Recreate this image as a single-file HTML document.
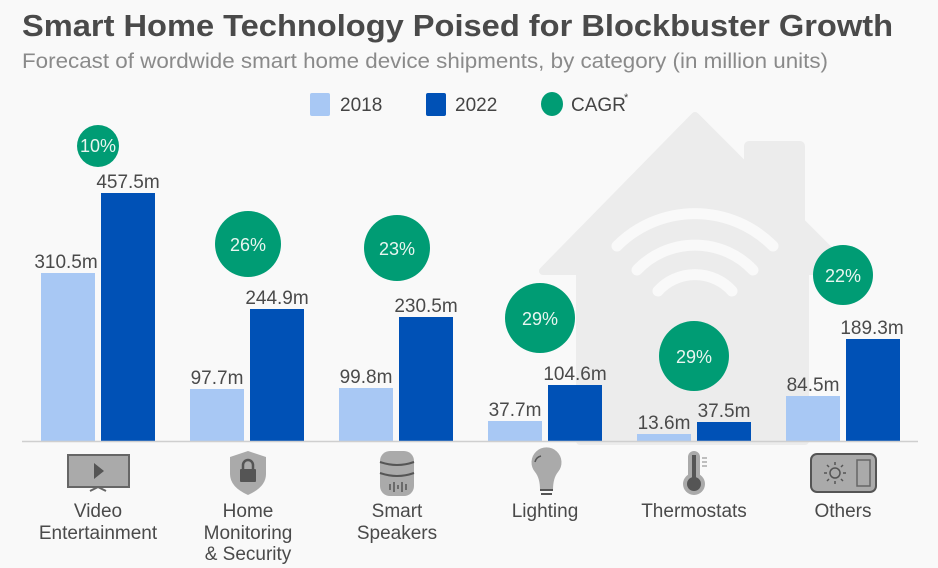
<!DOCTYPE html>
<html><head><meta charset="utf-8"><style>
html,body{margin:0;padding:0;background:#f9f9f9;}
svg{display:block;font-family:"Liberation Sans",sans-serif;}
</style></head><body>
<svg width="938" height="568" viewBox="0 0 938 568" xmlns="http://www.w3.org/2000/svg">
<rect width="938" height="568" fill="#f9f9f9"/>
<!-- house -->
<g fill="#ececec">
<path d="M695 116 L850 271 L805 271 L805 441 L580 441 L580 271 L543 271 Z" stroke="#ececec" stroke-width="8" stroke-linejoin="round"/>
<rect x="744" y="141" width="61" height="120" rx="5"/>
</g>
<g fill="none" stroke="#f9f9f9" stroke-width="11" stroke-linecap="round">
<path d="M617 246 A110 110 0 0 1 773 246"/>
<path d="M637 270 A80 80 0 0 1 753 270"/>
<path d="M658 291 A50 50 0 0 1 732 291"/>
</g>
<!-- title -->
<text x="22" y="36" font-size="31" font-weight="bold" fill="#4a4a4a" textLength="871" lengthAdjust="spacingAndGlyphs">Smart Home Technology Poised for Blockbuster Growth</text>
<text x="22" y="68" font-size="21" fill="#8a8a8a" textLength="806" lengthAdjust="spacingAndGlyphs">Forecast of wordwide smart home device shipments, by category (in million units)</text>
<!-- legend -->
<rect x="310" y="93" width="20" height="23" rx="2" fill="#a8c8f4"/>
<text x="340" y="111" font-size="19" fill="#444">2018</text>
<rect x="426" y="93" width="20" height="23" rx="2" fill="#0051b6"/>
<text x="455" y="111" font-size="19" fill="#444">2022</text>
<ellipse cx="552" cy="104" rx="11" ry="12" fill="#009c74"/>
<text x="571" y="111" font-size="19" fill="#444">CAGR</text><text x="624" y="101" font-size="11" fill="#444">*</text>
<!-- bars -->
<g fill="#a8c8f4">
<rect x="41" y="273" width="54" height="168"/>
<rect x="190" y="389" width="54" height="52"/>
<rect x="339" y="388" width="54" height="53"/>
<rect x="488" y="421" width="54" height="20"/>
<rect x="637" y="434" width="54" height="7"/>
<rect x="786" y="396" width="54" height="45"/>
</g>
<g fill="#0051b6">
<rect x="101" y="193" width="54" height="248"/>
<rect x="250" y="309" width="54" height="132"/>
<rect x="399" y="317" width="54" height="124"/>
<rect x="548" y="385" width="54" height="56"/>
<rect x="697" y="422" width="54" height="19"/>
<rect x="846" y="339" width="54" height="102"/>
</g>
<line x1="22" y1="441.5" x2="918" y2="441.5" stroke="#cfcfcf" stroke-width="1.5"/>
<!-- values -->
<g font-size="19" fill="#4a4a4a" text-anchor="middle">
<text x="66" y="268">310.5m</text><text x="128" y="188">457.5m</text>
<text x="217" y="384">97.7m</text><text x="277" y="304">244.9m</text>
<text x="366" y="383">99.8m</text><text x="426" y="312">230.5m</text>
<text x="515" y="416">37.7m</text><text x="575" y="380">104.6m</text>
<text x="664" y="429">13.6m</text><text x="724" y="417">37.5m</text>
<text x="813" y="391">84.5m</text><text x="872" y="334">189.3m</text>
</g>
<!-- CAGR circles -->
<g fill="#009c74">
<circle cx="98" cy="146" r="21"/>
<circle cx="248" cy="244" r="33"/>
<circle cx="397" cy="248" r="33"/>
<circle cx="540" cy="318" r="35"/>
<circle cx="694" cy="356" r="35"/>
<circle cx="843" cy="275" r="30"/>
</g>
<g font-size="18" fill="#e8f5f0" text-anchor="middle">
<text x="98" y="152">10%</text>
<text x="248" y="251">26%</text>
<text x="397" y="255">23%</text>
<text x="540" y="325">29%</text>
<text x="694" y="363">29%</text>
<text x="843" y="282">22%</text>
</g>
<!-- icons -->
<g>
<rect x="68" y="455" width="61" height="32" fill="#aaa" stroke="#666" stroke-width="2"/>
<path d="M94 463 L104 471 L94 479 Z" fill="#555"/>
<path d="M90 491 L98 487 L106 491" stroke="#666" stroke-width="2" fill="none"/>
<path d="M248 451 L266 457 L266 474 Q266 487 248 495 Q230 487 230 474 L230 457 Z" fill="#aaa"/>
<rect x="240" y="469" width="16" height="13" rx="1" fill="#555"/>
<path d="M243 469 V465 A5 5 0 0 1 253 465 V469" stroke="#555" stroke-width="2.5" fill="none"/>
<rect x="380" y="451" width="34" height="45" rx="10" fill="#aaa"/>
<path d="M380 462 Q397 468 414 462 M380 473 Q397 479 414 473" stroke="#555" stroke-width="2" fill="none"/>
<path d="M390 484v6M394 482v10M398 485v4M402 482v10M406 484v6" stroke="#555" stroke-width="1.5"/>
<path d="M540 490 Q540 478 535 472 A15 15 0 1 1 558 472 Q553 478 553 490 Z" fill="#aaa"/>
<path d="M540 490h13M541 494h11" stroke="#555" stroke-width="2"/>
<path d="M535 462 A8 8 0 0 1 541 456" stroke="#555" stroke-width="1.5" fill="none"/>
<rect x="688" y="451" width="12" height="30" rx="6" fill="#aaa"/>
<circle cx="694" cy="484" r="11" fill="#aaa"/>
<circle cx="694" cy="484" r="7" fill="#555"/><rect x="692" y="455" width="4" height="28" fill="#555"/>
<path d="M702 458h5M702 462h5M702 466h5" stroke="#aaa" stroke-width="1.5"/>
<rect x="811" y="454" width="65" height="38" rx="6" fill="#aaa" stroke="#555" stroke-width="2"/>
<rect x="857" y="460" width="13" height="26" fill="#aaa" stroke="#666" stroke-width="1.5"/>
<circle cx="835" cy="473" r="5" fill="none" stroke="#555" stroke-width="1.5"/>
<path d="M835 462v3M835 481v3M824 473h3M843 473h3M827 465l2 2M841 479l2 2M827 481l2-2M841 467l2-2" stroke="#555" stroke-width="1.5"/>
</g>
<!-- category labels -->
<g font-size="19" fill="#4a4a4a" text-anchor="middle">
<text x="98" y="517">Video</text><text x="98" y="539">Entertainment</text>
<text x="248" y="517">Home</text><text x="248" y="539">Monitoring</text><text x="248" y="560">&amp; Security</text>
<text x="397" y="517">Smart</text><text x="397" y="539">Speakers</text>
<text x="545" y="517">Lighting</text>
<text x="694" y="517">Thermostats</text>
<text x="843" y="517">Others</text>
</g>
</svg>
</body></html>
